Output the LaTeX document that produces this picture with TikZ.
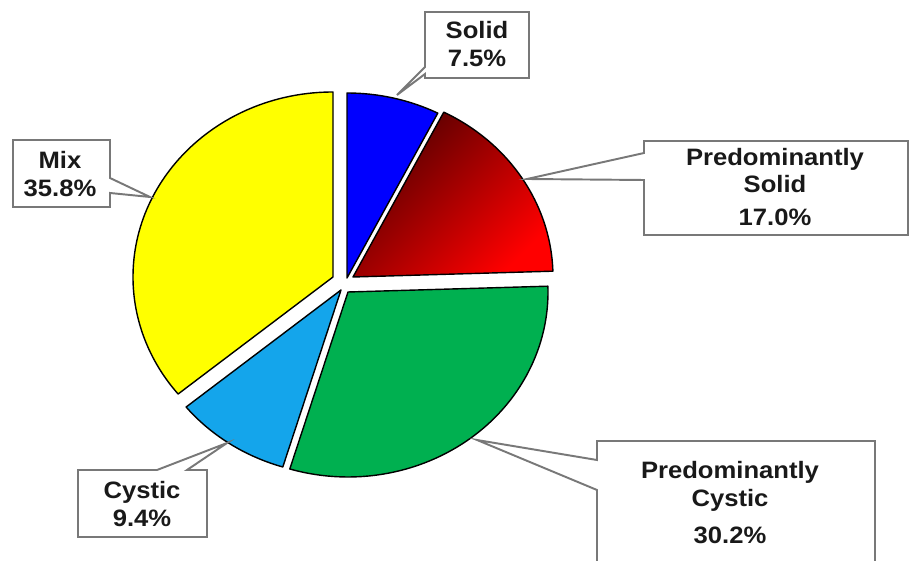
\documentclass[tikz,border=0pt]{standalone}
\usepackage{fontspec}
\setmainfont{Liberation Sans}
\newfontfamily\labfont{Liberation Sans}[FakeStretch=1.08]
\usepackage{tikz}
\definecolor{pieblue}{RGB}{0,0,255}
\definecolor{piegreen}{RGB}{0,176,80}
\definecolor{pielight}{RGB}{20,165,235}
\definecolor{pieyellow}{RGB}{255,255,0}
\definecolor{piedark}{RGB}{80,0,0}
\definecolor{piemid}{RGB}{235,0,0}
\definecolor{boxgray}{RGB}{120,120,120}

\begin{document}
\begin{tikzpicture}[x=0.02cm, y=0.02cm,
  slice/.style={draw=black, line width=0.8pt, line join=round},
  callout/.style={draw=boxgray, line width=1.1pt, fill=white, line join=miter},
  lab/.style={font=\labfont\fontsize{13.5}{15.5}\selectfont\bfseries, align=center, text=black!90, inner sep=0pt}]
\useasboundingbox (0,0) rectangle (910,561);
\clip (0,0) rectangle (910,561);
\draw[slice, fill=pieblue] (347,283) -- ++(90:200 and 185) arc[start angle=90, end angle=63, x radius=200, y radius=185] -- cycle;
\draw[slice, top color=piedark, middle color=piemid, bottom color=red, shading angle=45] (353,284) -- ++(63:200 and 185) arc[start angle=63, end angle=1.8, x radius=200, y radius=185] -- cycle;
\draw[slice, fill=piegreen] (348,269) -- ++(1.8:200 and 185) arc[start angle=1.8, end angle=-106.92, x radius=200, y radius=185] -- cycle;
\draw[slice, fill=pielight] (341,271) -- ++(-106.92:200 and 185) arc[start angle=-106.92, end angle=-140.76, x radius=200, y radius=185] -- cycle;
\draw[slice, fill=pieyellow] (333,284) -- ++(90:200 and 185) arc[start angle=90, end angle=219.24, x radius=200, y radius=185] -- cycle;
\draw[callout] (425,549) -- (529,549) -- (529,483) -- (425,483) -- (425,487) -- (397,466) -- (425,494) -- cycle;
\draw[callout] (644,420) -- (908,420) -- (908,326) -- (644,326) -- (644,381) -- (527,382) -- (644,408) -- cycle;
\draw[callout] (13,421) -- (110,421) -- (110,383) -- (150,364) -- (110,368) -- (110,354) -- (13,354) -- cycle;
\draw[callout] (78,91) -- (157,91) -- (227,118) -- (187,91) -- (207,91) -- (207,24) -- (78,24) -- cycle;
\draw[callout] (597,120) -- (875,120) -- (875,-10) -- (597,-10) -- (597,71) -- (477,121) -- (597,101) -- cycle;
\node[lab] (solid) at (477,517) {Solid\\7.5\%};
\node[lab] (predsolid) at (775,374) {Predominantly\\Solid\\[3pt]17.0\%};
\node[lab] (mix) at (60,387) {Mix\\35.8\%};
\node[lab] (cystic) at (142,57) {Cystic\\9.4\%};
\node[lab] (predcystic) at (730,58) {Predominantly\\Cystic\\[6pt]30.2\%};
\end{tikzpicture}
\end{document}
